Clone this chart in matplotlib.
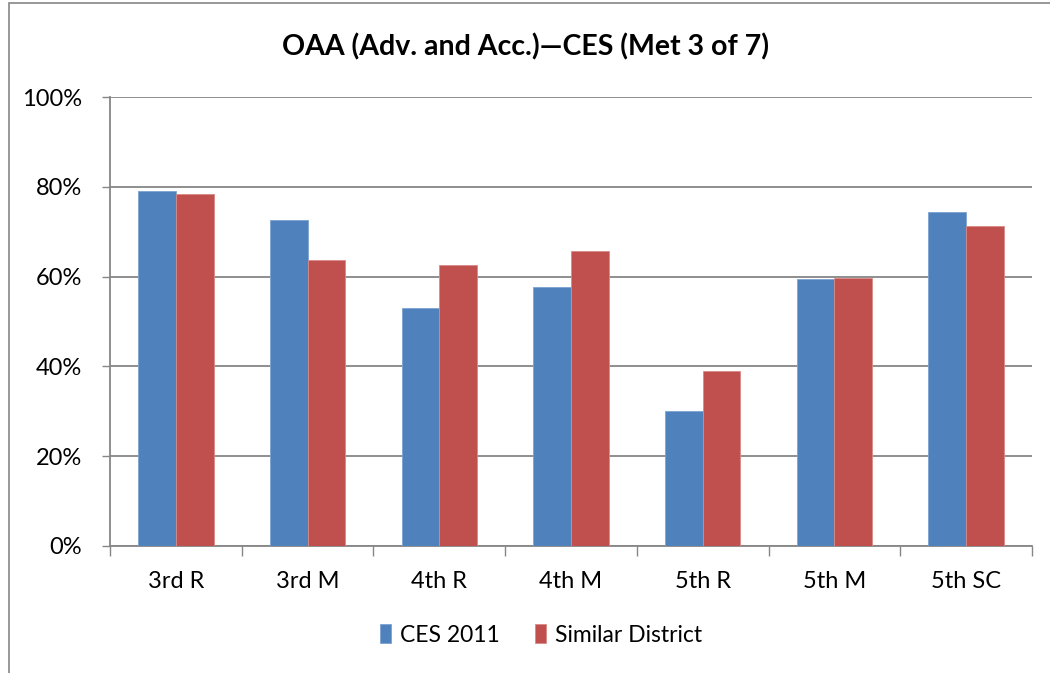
import matplotlib.pyplot as plt
import numpy as np
from matplotlib.patches import Rectangle

categories = ['3rd R', '3rd M', '4th R', '4th M', '5th R', '5th M', '5th SC']
ces_2011 = [79.0, 72.5, 53.1, 57.6, 30.1, 59.5, 74.4]
similar_district = [78.4, 63.7, 62.5, 65.8, 39.0, 59.7, 71.3]
series_names = ['CES 2011', 'Similar District']

plt.rcParams['font.family'] = ['Lato', 'DejaVu Sans']

W, H = 1050, 673
fig = plt.figure(figsize=(W / 100, H / 100), dpi=100)
ax = fig.add_axes([110 / W, 1 - 546 / H, 922 / W, 449 / H])

# outer chart frame
fig.patches.append(Rectangle((8.5 / W, -0.05), 1.2, 1 - 3.5 / H + 0.05,
                             transform=fig.transFigure, fill=False,
                             edgecolor='#868686', linewidth=1.2))

x = np.arange(len(categories))
bw = 0.286
ax.bar(x - bw / 2, ces_2011, bw, color='#4F81BD', edgecolor='#7da3d3',
       linewidth=0.6, label=series_names[0], zorder=3)
ax.bar(x + bw / 2, similar_district, bw, color='#C0504D', edgecolor='#d98a88',
       linewidth=0.6, label=series_names[1], zorder=3)

ax.set_xlim(-0.5, len(categories) - 0.5)
ax.set_ylim(0, 100)
ax.set_yticks(range(0, 101, 20))
ax.set_yticklabels([f'{v}%' for v in range(0, 101, 20)])
ax.yaxis.grid(True, color='#868686', linewidth=1.3, zorder=0)
ax.set_axisbelow(True)

ax.set_xticks(x)
ax.set_xticklabels(categories)
ax.set_xticks(np.arange(-0.5, len(categories)), minor=True)
ax.tick_params(axis='x', which='major', length=0, pad=18, labelsize=17)
ax.tick_params(axis='x', which='minor', length=7, color='#868686', width=1)
ax.tick_params(axis='y', length=6, color='#868686', width=1, labelsize=17, pad=14)

for side in ['top', 'right']:
    ax.spines[side].set_visible(False)
for side in ['left', 'bottom']:
    ax.spines[side].set_color('#868686')
    ax.spines[side].set_linewidth(1.3)

fig.text(0.5, 1 - 47 / H, 'OAA (Adv. and Acc.)\u2014CES (Met 3 of 7)',
         ha='center', va='center', fontsize=20.5, fontweight='bold')

fig.legend(loc='center', bbox_to_anchor=(541 / W, 1 - 635 / H), ncol=2,
           frameon=False, fontsize=16.5, handlelength=0.5, handleheight=0.9,
           handletextpad=0.4, columnspacing=1.5)

fig.savefig('out.png', dpi=100, facecolor='white')
